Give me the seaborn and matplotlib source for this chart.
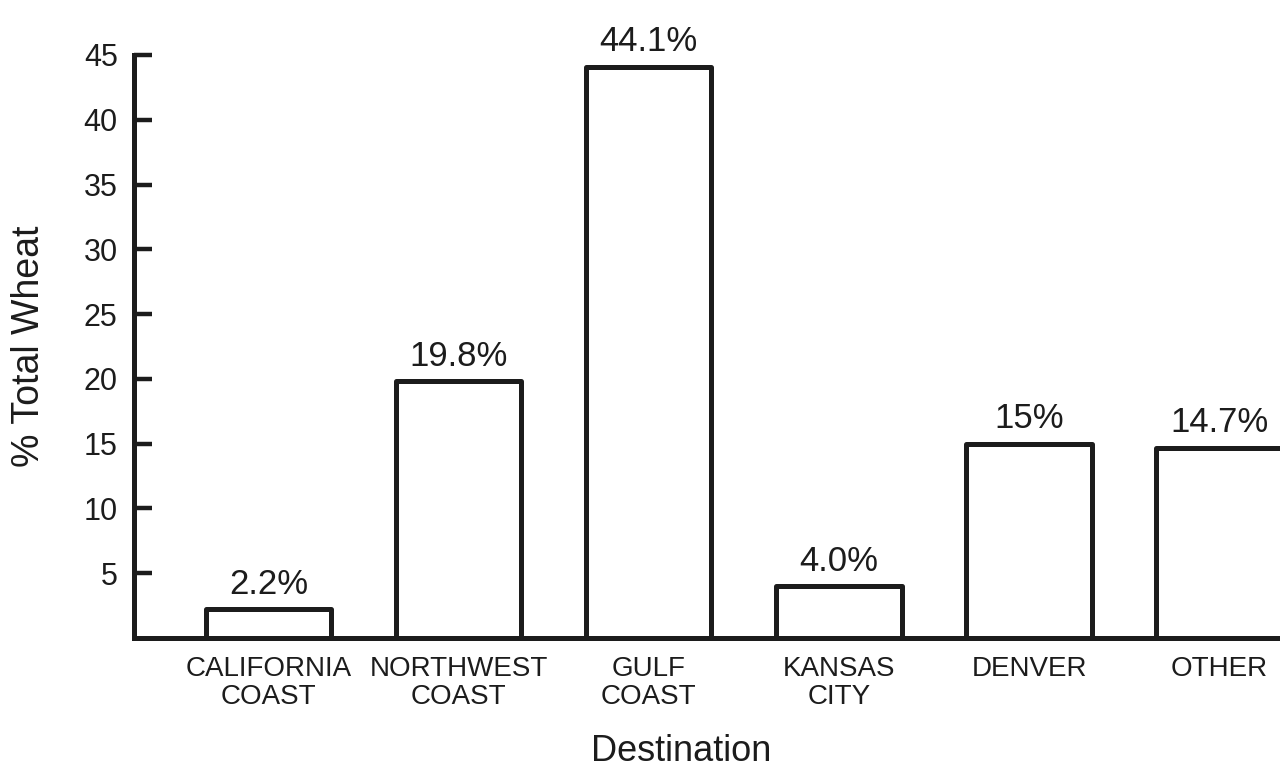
import matplotlib
matplotlib.use("Agg")
import matplotlib.pyplot as plt
import seaborn as sns
import pandas as pd

# Share of total wheat shipped, by destination
destinations = ["CALIFORNIA\nCOAST", "NORTHWEST\nCOAST", "GULF\nCOAST",
                "KANSAS\nCITY", "DENVER", "OTHER"]
shares = [2.2, 19.8, 44.1, 4.0, 15.0, 14.7]
share_labels = ["2.2%", "19.8%", "44.1%", "4.0%", "15%", "14.7%"]
y_ticks = [5, 10, 15, 20, 25, 30, 35, 40, 45]

ink = "#1c1c1c"

sns.set_theme(style="white")
plt.rcParams["font.family"] = ["Liberation Sans", "DejaVu Sans"]

df = pd.DataFrame({"Destination": destinations, "Share": shares})

fig = plt.figure(figsize=(12.8, 7.72), dpi=100)
ax = fig.add_axes([0.105, 0.1736, 0.895, 0.7552])

sns.barplot(data=df, x="Destination", y="Share", ax=ax, color="white",
            edgecolor=ink, linewidth=3.6, width=0.66, saturation=1)

for patch in ax.patches:
    patch.set_facecolor("white")
    patch.set_joinstyle("round")

for i, (v, lab) in enumerate(zip(shares, share_labels)):
    ax.annotate(lab, xy=(i, v), xytext=(0, 6), textcoords="offset points",
                ha="center", va="bottom", fontsize=25, color=ink,
                annotation_clip=False)

ax.set_xlim(-0.705, 5.32)
ax.set_ylim(0, 45)
ax.set_yticks(y_ticks)
ax.set_yticklabels([str(t) for t in y_ticks], fontsize=22, color=ink)
ax.tick_params(axis="y", left=True, direction="in", length=13, width=3.2,
               color=ink, pad=12)
ax.tick_params(axis="x", bottom=False, length=0, pad=13, labelsize=20,
               labelcolor=ink)
for lab in ax.get_xticklabels():
    lab.set_linespacing(1.1)

for side in ["top", "right"]:
    ax.spines[side].set_visible(False)
for side in ["left", "bottom"]:
    ax.spines[side].set_linewidth(3.6)
    ax.spines[side].set_color(ink)
    ax.spines[side].set_capstyle("projecting")

ax.set_ylabel("% Total Wheat", fontsize=27, color=ink, labelpad=26)
ax.set_xlabel("")
fig.text(0.532, 0.004, "Destination", fontsize=26, color=ink,
         ha="center", va="bottom")

fig.savefig("out.png", dpi=100)
